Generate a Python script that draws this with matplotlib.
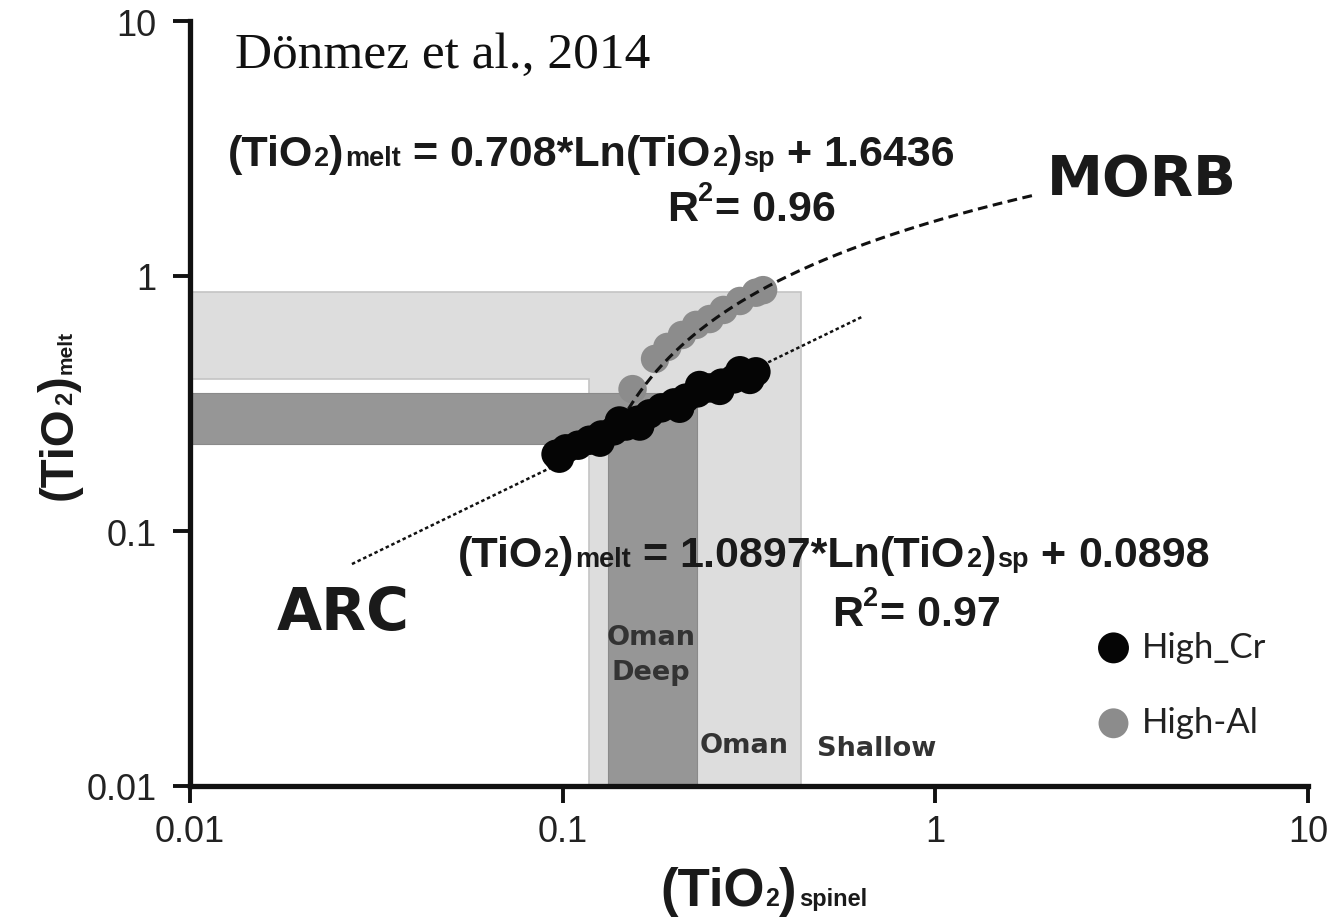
import numpy as np
import matplotlib
matplotlib.use("Agg")
import matplotlib.pyplot as plt
from matplotlib.patches import Polygon
from matplotlib.ticker import NullLocator, FixedLocator, FixedFormatter

# ---- data -------------------------------------------------------------
# High-Cr chromitite spinels: (TiO2)spinel vs calculated (TiO2)melt
high_cr_x = [0.096, 0.102, 0.110, 0.118, 0.127, 0.137, 0.148, 0.159, 0.171,
             0.184, 0.199, 0.214, 0.230, 0.248, 0.267, 0.288, 0.310, 0.330,
             0.098, 0.126, 0.161, 0.206, 0.264, 0.318, 0.142, 0.233, 0.299]
high_cr_y = [0.200, 0.210, 0.217, 0.227, 0.238, 0.247, 0.258, 0.272, 0.288,
             0.304, 0.318, 0.332, 0.348, 0.364, 0.380, 0.395, 0.409, 0.421,
             0.193, 0.223, 0.258, 0.303, 0.356, 0.393, 0.270, 0.372, 0.425]

# High-Al chromitite spinels
high_al_x = [0.154, 0.177, 0.191, 0.209, 0.228, 0.248, 0.270, 0.299, 0.330, 0.345]
high_al_y = [0.360, 0.473, 0.527, 0.587, 0.643, 0.678, 0.736, 0.798, 0.860, 0.880]

# MORB trend: (TiO2)melt = 0.708*Ln(TiO2)sp + 1.6436
morb_slope, morb_intercept = 0.708, 1.6436
morb_x_range = (0.15, 1.85)

# ARC trend line end points
arc_x = [0.0272, 0.635]
arc_y = [0.0742, 0.691]

# Oman fields: horizontal (melt) and vertical (spinel) bands
shallow_sp = (0.118, 0.436)
shallow_melt = (0.394, 0.865)
deep_sp = (0.132, 0.229)
deep_melt = (0.219, 0.348)

ticks = [0.01, 0.1, 1, 10]
tick_labels = ["0.01", "0.1", "1", "10"]

# ---- figure -----------------------------------------------------------
W, H = 1328, 920
fig = plt.figure(figsize=(W / 100, H / 100), dpi=100)
ax = fig.add_axes([190 / W, 1 - 787 / H, 1118 / W, 765 / H])
ax.set_xscale("log")
ax.set_yscale("log")
ax.set_xlim(0.01, 10)
ax.set_ylim(0.01, 10)

for axis in (ax.xaxis, ax.yaxis):
    axis.set_major_locator(FixedLocator(ticks))
    axis.set_major_formatter(FixedFormatter(tick_labels))
    axis.set_minor_locator(NullLocator())
ax.tick_params(axis="both", which="major", direction="out", length=12,
               width=2.8, labelsize=26, labelcolor="#222222",
               color="#111111")
ax.tick_params(axis="x", pad=8)
ax.tick_params(axis="y", pad=12)
for lbl in ax.get_xticklabels() + ax.get_yticklabels():
    lbl.set_family("Liberation Sans")
for side in ("top", "right"):
    ax.spines[side].set_visible(False)
for side in ("left", "bottom"):
    ax.spines[side].set_linewidth(3.8)
    ax.spines[side].set_color("#111111")
    ax.spines[side].set_zorder(10)


def l_shape(sp, melt, lo=0.01):
    return [(lo, melt[1]), (sp[1], melt[1]), (sp[1], lo), (sp[0], lo),
            (sp[0], melt[0]), (lo, melt[0])]


ax.add_patch(Polygon(l_shape(shallow_sp, shallow_melt), closed=True,
                     facecolor="#dddddd", edgecolor="#c4c4c4", lw=1.2, zorder=1))
ax.add_patch(Polygon(l_shape(deep_sp, deep_melt), closed=True,
                     facecolor="#969696", edgecolor="#8a8a8a", lw=0.8, zorder=2))

# trend lines
ax.plot(arc_x, arc_y, color="#111111", lw=1.8, dashes=(1.4, 1.1), zorder=3)
ax.scatter(high_al_x, high_al_y, s=420, color="#8c8c8c", edgecolors="none",
           zorder=4, label="High-Al")
mx = np.geomspace(*morb_x_range, 200)
ax.plot(mx, morb_slope * np.log(mx) + morb_intercept, color="#111111",
        lw=2.2, dashes=(3.2, 1.8), zorder=5)
ax.scatter(high_cr_x, high_cr_y, s=450, color="#050505", edgecolors="none",
           zorder=6, label="High_Cr")

handles, labels = ax.get_legend_handles_labels()
order = [labels.index("High_Cr"), labels.index("High-Al")]
leg = ax.legend([handles[i] for i in order], [labels[i] for i in order],
                loc="upper left", bbox_to_anchor=(1097 / W, 1 - 632 / H),
                bbox_transform=fig.transFigure, frameon=False,
                prop={"family": "Lato", "size": 25}, handlelength=0.95,
                handletextpad=0.35, labelspacing=1.25, borderpad=0,
                borderaxespad=0, markerscale=1.05)
for txt in leg.get_texts():
    txt.set_color("#222222")

# ---- text with mixed sizes ---------------------------------------------
renderer = fig.canvas.get_renderer()


def rich_text(x, y, runs, rotation=0, color="#1a1a1a", family="Liberation Sans",
              weight="bold"):
    """Draw runs of (text, size, raise_px, gap_px) starting at pixel (x, y),
    with y measured from the top edge and the text sitting on its baseline."""
    cur = 0.0
    for s, size, rise, gap in runs:
        cur += gap
        if rotation == 0:
            px, py = x + cur, y - rise
        else:
            px, py = x - rise, y - cur
        t = fig.text(px / W, 1 - py / H, s, fontsize=size, color=color,
                     family=family, weight=weight, ha="left", va="baseline",
                     rotation=rotation, rotation_mode="anchor")
        bb = t.get_window_extent(renderer)
        cur += bb.width if rotation == 0 else bb.height


BIG, SMALL = 31, 19.5


def tio2(sub):
    return [("(TiO", BIG, 0, 0), ("2", SMALL, 0, 1), (")", BIG, 0, 0),
            (sub, SMALL, 0, 1)]


rich_text(228, 166, tio2("melt") + [("=", BIG, 0, 12), ("0.708*Ln", BIG, 0, 12)]
          + tio2("sp") + [("+", BIG, 0, 12), ("1.6436", BIG, 0, 12)])
rich_text(667, 221, [("R", BIG, 0, 0), ("2", SMALL, 20, 0), ("= 0.96", BIG, 0, 2)])

rich_text(458, 567, tio2("melt") + [("=", BIG, 0, 12), ("1.0897*Ln", BIG, 0, 12)]
          + tio2("sp") + [("+", BIG, 0, 12), ("0.0898", BIG, 0, 12)])
rich_text(832, 626, [("R", BIG, 0, 0), ("2", SMALL, 20, 0), ("= 0.97", BIG, 0, 2)])

# axis labels
rich_text(660, 906, [("(TiO", 38, 0, 0), ("2", 18, 0, 1), (")", 38, 0, 0),
                     ("spinel", 17, 0, 2)])
rich_text(72, 500, [("(TiO", 34, 0, 0), ("2", 17, 0, 1), (")", 34, 0, 0),
                    ("melt", 15, 0, 2)], rotation=90)

# field and trend labels
fig.text(1047 / W, 1 - 195 / H, "MORB", fontsize=40.5, weight="bold",
         color="#1a1a1a", ha="left", va="baseline")
fig.text(277 / W, 1 - 630 / H, "ARC", fontsize=42, weight="bold",
         color="#1a1a1a", ha="left", va="baseline")
oman = dict(fontsize=19.5, weight="bold", color="#333333", va="baseline")
fig.text(651 / W, 1 - 645 / H, "Oman", ha="center", **oman)
fig.text(651 / W, 1 - 680 / H, "Deep", ha="center", **oman)
fig.text(700 / W, 1 - 753 / H, "Oman", ha="left", **oman)
fig.text(817 / W, 1 - 756 / H, "Shallow", ha="left", **oman)

fig.text(235 / W, 1 - 68 / H, "Dönmez et al., 2014", fontsize=37,
         family="Liberation Serif", color="#111111", ha="left", va="baseline")

fig.savefig("out.png", dpi=100, facecolor="white")
